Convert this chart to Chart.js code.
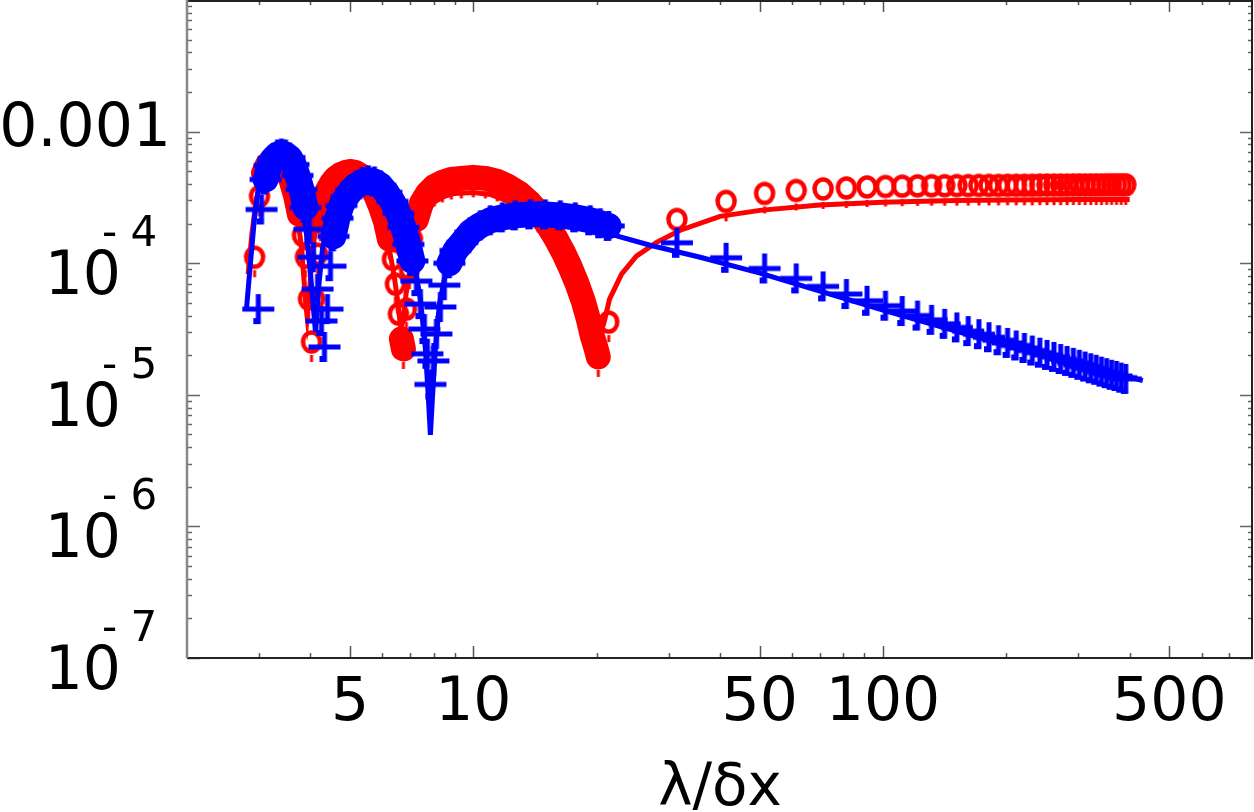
<!DOCTYPE html>
<html>
<head>
<meta charset="utf-8">
<script src="https://cdn.jsdelivr.net/npm/chart.js@4.4.1/dist/chart.umd.min.js"></script>
<style>
  html, body { margin: 0; padding: 0; background: #fff; }
  #wrap { width: 1254px; height: 812px; position: relative; }
</style>
</head>
<body>
<div id="wrap"><canvas id="chart"></canvas></div>
<script>
// axis ticks
const xTickVals = [5, 10, 50, 100, 500];
const xTickLabels = ['5', '10', '50', '100', '500'];
const xMinorVals = [3, 4, 6, 7, 8, 9, 20, 30, 40, 60, 70, 80, 90, 200, 300, 400, 600, 700];
const yTickVals = [1e-3, 1e-4, 1e-5, 1e-6, 1e-7];
const yTickBase = ['0.001', '10', '10', '10', '10'];
const yTickSup = ['', '- 4', '- 5', '- 6', '- 7'];

// red "o" markers, dense part
const nearRedX = [2.924, 3.006, 3.074, 3.145, 3.216, 3.289, 3.364, 3.44, 3.518, 3.598, 3.681, 3.763, 3.827, 3.892, 3.959, 4.027,
  4.096, 4.165, 4.235, 4.306, 4.404, 4.504, 4.607, 4.738, 4.873, 5.012, 5.154, 5.30, 5.452, 5.607, 5.768, 5.932, 6.101, 6.240, 6.346, 6.453, 6.563, 6.674, 6.750,
  6.864, 6.981, 7.099, 7.261, 7.468, 7.724, 8.035, 8.404, 8.838, 9.348, 10.0, 10.7, 11.44, 12.17, 12.95, 13.70, 14.40, 15.15, 15.85, 16.58, 17.24, 17.93, 18.55, 19.08, 19.51, 19.95, 20.18];
const nearRedY = [1.11e-4, 3.22e-4, 4.81e-4, 5.62e-4, 6.03e-4, 6.24e-4, 6.14e-4, 5.73e-4, 5.07e-4, 4.18e-4, 3.27e-4, 2.35e-4, 1.63e-4, 1.11e-4, 5.34e-5, 2.52e-5,
  5.34e-5, 1.17e-4, 2.08e-4, 2.90e-4, 3.57e-4, 4.04e-4, 4.41e-4, 4.72e-4, 4.89e-4, 4.98e-4, 4.89e-4, 4.64e-4, 4.33e-4, 3.90e-4, 3.33e-4, 2.70e-4, 2.08e-4, 1.52e-4, 1.07e-4, 6.94e-5, 4.11e-5, 2.66e-5, 2.23e-5,
  4.48e-5, 9.01e-5, 1.52e-4, 2.15e-4, 2.85e-4, 3.39e-4, 3.83e-4, 4.11e-4, 4.33e-4, 4.41e-4, 4.49e-4, 4.41e-4, 4.18e-4, 3.83e-4, 3.39e-4, 2.90e-4, 2.43e-4, 1.97e-4, 1.57e-4, 1.21e-4, 9.33e-5, 6.94e-5, 5.15e-5, 3.77e-5, 2.80e-5, 2.23e-5, 1.94e-5];

// blue "+" markers, dense part
const nearBlueX = [2.986, 3.041, 3.110, 3.180, 3.252, 3.327, 3.402, 3.479, 3.558, 3.639, 3.721, 3.806, 3.892, 3.981, 4.071, 4.165, 4.259, 4.331,
  4.404, 4.479, 4.555, 4.659, 4.764, 4.899, 5.039, 5.182, 5.361, 5.545, 5.735, 5.932, 6.136, 6.346, 6.563, 6.750, 6.942, 7.099, 7.261, 7.426, 7.594, 7.724, 7.855,
  7.988, 8.125, 8.309, 8.497, 8.739, 9.040, 9.402, 9.833, 10.40, 11.00, 11.77, 12.66, 13.77, 14.98, 16.30, 17.73, 19.29, 20.40];
const nearBlueY = [4.48e-5, 2.56e-4, 4.33e-4, 5.53e-4, 6.24e-4, 6.70e-4, 6.81e-4, 6.70e-4, 6.35e-4, 5.62e-4, 4.64e-4, 3.64e-4, 2.65e-4, 1.81e-4, 1.11e-4, 6.36e-5, 3.64e-5, 2.31e-5,
  4.48e-5, 9.5e-5, 1.6e-4, 2.2e-4, 2.75e-4, 3.2e-4, 3.6e-4, 3.9e-4, 4.15e-4, 4.26e-4, 4.18e-4, 3.90e-4, 3.45e-4, 2.95e-4, 2.39e-4, 1.87e-4, 1.39e-4, 1.04e-4, 7.31e-5, 4.89e-5, 3.16e-5, 2.05e-5, 1.2e-5,
  1.81e-5, 2.90e-5, 4.65e-5, 6.81e-5, 1.00e-4, 1.25e-4, 1.44e-4, 1.72e-4, 1.94e-4, 2.12e-4, 2.23e-4, 2.31e-4, 2.35e-4, 2.35e-4, 2.31e-4, 2.23e-4, 2.12e-4, 2.01e-4];

// sparse part, both series share the same abscissae
const farX = [21.4, 31.4, 41.4, 51.4, 61.4, 71.4, 81.4, 91.4, 101.4, 111.4, 121.4, 131.4, 141.4, 151.4, 161.4, 171.4, 181.4, 191.4, 201.4,
  211.4, 221.4, 231.4, 241.4, 251.4, 261.4, 271.4, 281.4, 291.4, 301.4, 311.4, 321.4, 331.4, 341.4, 351.4, 361.4, 371.4, 381.4, 391.4];
const farRedY = [3.57e-5, 2.15e-4, 2.95e-4, 3.39e-4, 3.57e-4, 3.67e-4, 3.73e-4, 3.80e-4, 3.83e-4, 3.85e-4, 3.87e-4, 3.88e-4, 3.88e-4, 3.89e-4, 3.89e-4,
  3.90e-4, 3.90e-4, 3.90e-4, 3.91e-4, 3.91e-4, 3.91e-4, 3.91e-4, 3.92e-4, 3.92e-4, 3.92e-4, 3.92e-4, 3.92e-4, 3.93e-4, 3.93e-4, 3.93e-4, 3.93e-4, 3.93e-4,
  3.93e-4, 3.94e-4, 3.94e-4, 3.94e-4, 3.94e-4, 3.94e-4];
const farBlueY = [1.92e-4, 1.43e-4, 1.10e-4, 9.12e-5, 7.66e-5, 6.66e-5, 5.83e-5, 5.18e-5, 4.75e-5, 4.33e-5, 4.00e-5, 3.71e-5, 3.46e-5, 3.25e-5, 3.05e-5,
  2.89e-5, 2.74e-5, 2.60e-5, 2.48e-5, 2.37e-5, 2.27e-5, 2.17e-5, 2.09e-5, 2.01e-5, 1.94e-5, 1.87e-5, 1.81e-5, 1.75e-5, 1.69e-5, 1.64e-5, 1.59e-5, 1.55e-5,
  1.50e-5, 1.46e-5, 1.42e-5, 1.39e-5, 1.35e-5, 1.32e-5];

// solid curves
const redLineX = [2.82, 2.88, 2.95, 3.02, 3.1, 3.2, 3.3, 3.4, 3.5, 3.6, 3.7, 3.8, 3.85, 3.9, 3.93, 3.97, 4.02, 4.1, 4.2, 4.35,
  4.5, 4.7, 5.0, 5.3, 5.6, 5.9, 6.2, 6.4, 6.55, 6.65, 6.75, 6.85, 7.0, 7.2, 7.5, 8.0, 8.5, 9.0, 10, 11,
  12, 13, 14, 15, 16, 17, 18, 19, 19.6, 20.2, 20.8, 21.5, 23, 25, 28, 32, 40, 50, 70, 100, 150, 200, 300, 400];
const redLineY = [8.26e-5, 1.66e-4, 3.05e-4, 3.96e-4, 4.56e-4, 4.89e-4, 4.98e-4, 4.81e-4, 4.33e-4, 3.51e-4, 2.48e-4, 1.39e-4, 8.26e-5, 4.89e-5, 3.90e-5, 5.34e-5, 9.33e-5, 1.66e-4, 2.48e-4, 3.05e-4,
  3.39e-4, 3.70e-4, 3.90e-4, 3.77e-4, 3.22e-4, 2.35e-4, 1.39e-4, 8.26e-5, 4.89e-5, 3.16e-5, 3.90e-5, 5.83e-5, 9.01e-5, 1.47e-4, 2.15e-4, 2.90e-4, 3.22e-4, 3.39e-4, 3.45e-4, 3.33e-4,
  3.00e-4, 2.56e-4, 2.08e-4, 1.57e-4, 1.17e-4, 8.26e-5, 5.73e-5, 3.90e-5, 3.16e-5, 2.75e-5, 3.45e-5, 5.34e-5, 8.26e-5, 1.13e-4, 1.44e-4, 1.78e-4, 2.27e-4, 2.52e-4, 2.77e-4, 2.90e-4, 3.00e-4, 3.02e-4, 3.05e-4, 3.05e-4];
const blueLineX = [2.795, 2.851, 2.924, 3.006, 3.110, 3.234, 3.383, 3.538, 3.681, 3.806, 3.914, 4.004, 4.071, 4.118, 4.188, 4.282, 4.429, 4.634, 4.899, 5.241,
  5.607, 5.998, 6.418, 6.825, 7.179, 7.426, 7.637, 7.767, 7.855, 7.943, 8.078, 8.262, 8.497, 8.888, 9.402, 10.11, 11.00, 12.31, 13.77, 15.85,
  18.24, 20.75, 27.02, 35.79, 50.1, 100, 175.4, 430.5];
const blueLineY = [4.56e-5, 9.33e-5, 2.23e-4, 4.33e-4, 5.62e-4, 6.14e-4, 6.14e-4, 5.53e-4, 4.33e-4, 3.05e-4, 1.66e-4, 8.26e-5, 4.48e-5, 3.00e-5, 6.36e-5, 1.28e-4, 2.23e-4, 3.05e-4, 3.64e-4, 3.90e-4,
  3.77e-4, 3.27e-4, 2.56e-4, 1.75e-4, 9.82e-5, 5.34e-5, 2.23e-5, 9.33e-6, 4.97e-6, 9.33e-6, 2.23e-5, 4.89e-5, 7.57e-5, 1.11e-4, 1.44e-4, 1.72e-4, 1.87e-4, 1.97e-4, 2.01e-4, 1.94e-4,
  1.84e-4, 1.72e-4, 1.37e-4, 1.11e-4, 8.40e-5, 4.41e-5, 2.66e-5, 1.28e-5];

const RED = '#ff0000';
const BLUE = '#0000ff';
const FONT = '"DejaVu Sans", sans-serif';

const toPts = (xs, ys) => xs.map((x, i) => ({ x: x, y: ys[i] }));
const redMarks = toPts(nearRedX.concat(farX), nearRedY.concat(farRedY));
const blueMarks = toPts(nearBlueX.concat(farX), nearBlueY.concat(farBlueY));

// the "o" glyph with its little stem underneath
function ringImage() {
  const c = document.createElement('canvas');
  c.width = 28; c.height = 60;
  const g = c.getContext('2d');
  g.strokeStyle = RED;
  g.fillStyle = RED;
  g.lineWidth = 4.5;
  g.beginPath();
  g.ellipse(14, 30, 8.5, 9.5, 0, 0, Math.PI * 2);
  g.stroke();
  g.fillRect(12.5, 43, 3, 7);
  return c;
}

// the "+" glyph with the small square at its foot
function crossImage() {
  const c = document.createElement('canvas');
  c.width = 34; c.height = 34;
  const g = c.getContext('2d');
  g.fillStyle = BLUE;
  g.fillRect(1, 14.5, 32, 5);
  g.fillRect(14.5, 2, 5, 30);
  g.fillRect(12, 26, 7, 6);
  return c;
}

// where the markers pile up they merge into a solid band
const bandColor = col => ctx => {
  const a = ctx.p0, b = ctx.p1;
  const close = b.x < 625 && Math.hypot(b.x - a.x, b.y - a.y) < 20;
  return close ? col : 'rgba(0,0,0,0)';
};

const framePlugin = {
  id: 'frame',
  afterDraw(chart) {
    const { ctx, chartArea: a, scales: { x, y } } = chart;
    ctx.save();

    // tick marks, pointing inwards on all four sides
    const xt = (v, len, col) => {
      const px = Math.round(x.getPixelForValue(v)) + 0.5;
      ctx.strokeStyle = col;
      ctx.lineWidth = 1.5;
      ctx.beginPath();
      ctx.moveTo(px, a.bottom); ctx.lineTo(px, a.bottom - len);
      ctx.moveTo(px, a.top); ctx.lineTo(px, a.top + len);
      ctx.stroke();
    };
    const yt = (v, len, col) => {
      const py = Math.round(y.getPixelForValue(v)) + 0.5;
      ctx.strokeStyle = col;
      ctx.lineWidth = 1.5;
      ctx.beginPath();
      ctx.moveTo(a.left, py); ctx.lineTo(a.left + len, py);
      ctx.moveTo(a.right, py); ctx.lineTo(a.right - len, py);
      ctx.stroke();
    };
    xMinorVals.forEach(v => xt(v, 5, '#555'));
    xTickVals.forEach(v => xt(v, 12, '#555'));
    for (let n = -7; n <= -3; n++) {
      for (let k = 2; k <= 9; k++) yt(k * Math.pow(10, n), 5, '#666');
    }
    yTickVals.forEach(v => yt(v, 13, '#666'));

    // frame
    ctx.lineWidth = 2;
    ctx.strokeStyle = '#222';
    ctx.beginPath();
    ctx.moveTo(a.left, a.bottom); ctx.lineTo(a.right, a.bottom);
    ctx.moveTo(a.right - 1, a.bottom); ctx.lineTo(a.right - 1, a.top);
    ctx.moveTo(a.left, a.top + 1); ctx.lineTo(a.right, a.top + 1);
    ctx.stroke();
    ctx.strokeStyle = '#888';
    ctx.lineWidth = 2.5;
    ctx.beginPath();
    ctx.moveTo(a.left, a.top); ctx.lineTo(a.left, a.bottom);
    ctx.stroke();

    // labels
    ctx.fillStyle = '#000';
    ctx.textBaseline = 'alphabetic';
    ctx.font = '60px ' + FONT;
    ctx.textAlign = 'center';
    xTickVals.forEach((v, i) => ctx.fillText(xTickLabels[i], x.getPixelForValue(v), 720));

    yTickVals.forEach((v, i) => {
      const py = y.getPixelForValue(v);
      if (!yTickSup[i]) {
        ctx.font = '60px ' + FONT;
        ctx.textAlign = 'right';
        ctx.fillText(yTickBase[i], 171, py + 14);
      } else {
        ctx.font = '60px ' + FONT;
        ctx.textAlign = 'right';
        ctx.fillText(yTickBase[i], 121, py + 31);
        ctx.font = '42px ' + FONT;
        ctx.textAlign = 'left';
        ctx.fillText(yTickSup[i], 102, py - 17);
      }
    });

    ctx.font = '58px ' + FONT;
    ctx.textAlign = 'center';
    ctx.fillText('\u03bb/\u03b4x', (a.left + a.right) / 2, 805);
    ctx.restore();
  }
};

const ctx = document.getElementById('chart').getContext('2d');
new Chart(ctx, {
  type: 'scatter',
  data: {
    datasets: [
      {
        label: '+',
        data: blueMarks,
        showLine: false,
        pointStyle: crossImage(),
        pointRadius: 15,
        order: 0
      },
      {
        label: 'blue curve',
        data: toPts(blueLineX, blueLineY),
        showLine: true,
        borderColor: BLUE,
        borderWidth: 5,
        pointRadius: 0,
        order: 1
      },
      {
        label: 'blue band',
        data: blueMarks,
        showLine: true,
        borderWidth: 26,
        borderCapStyle: 'round',
        borderJoinStyle: 'round',
        pointRadius: 0,
        segment: { borderColor: bandColor(BLUE) },
        order: 2
      },
      {
        label: 'o',
        data: redMarks,
        showLine: false,
        pointStyle: ringImage(),
        pointRadius: 10,
        order: 3
      },
      {
        label: 'red curve',
        data: toPts(redLineX, redLineY),
        showLine: true,
        borderColor: RED,
        borderWidth: 5,
        pointRadius: 0,
        order: 4
      },
      {
        label: 'red band',
        data: redMarks,
        showLine: true,
        borderWidth: 25,
        borderCapStyle: 'round',
        borderJoinStyle: 'round',
        pointRadius: 0,
        segment: { borderColor: bandColor(RED) },
        order: 5
      }
    ]
  },
  options: {
    responsive: true,
    maintainAspectRatio: false,
    animation: false,
    events: [],
    layout: { autoPadding: false, padding: { left: 187, right: 1, top: 0, bottom: 154 } },
    plugins: {
      legend: { display: false },
      tooltip: { enabled: false }
    },
    scales: {
      x: { type: 'logarithmic', min: 2, max: 800, display: false },
      y: { type: 'logarithmic', min: 1e-7, max: 1e-2, display: false }
    }
  },
  plugins: [framePlugin]
});
</script>
</body>
</html>
